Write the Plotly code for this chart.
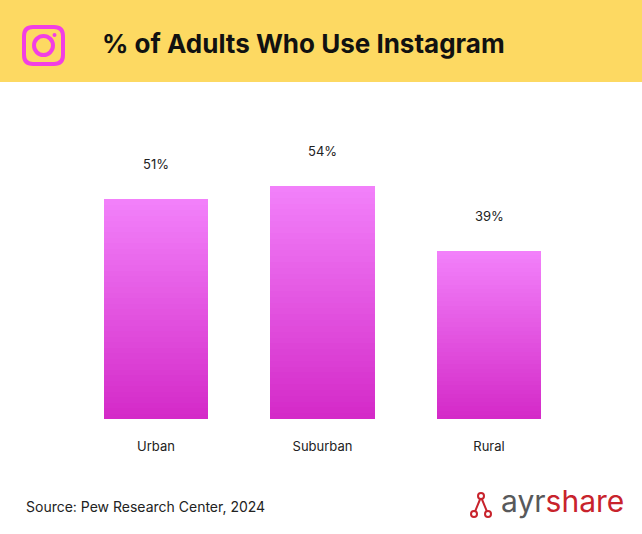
import plotly.graph_objects as go

categories = ["Urban", "Suburban", "Rural"]
values = [51, 54, 39]
labels = ["51%", "54%", "39%"]

W, H = 642, 534
N = 40
top_c = (242, 128, 250)
bot_c = (212, 42, 200)

fig = go.Figure()
for k in range(N):
    t = k / (N - 1)
    c = tuple(round(bot_c[i] + (top_c[i] - bot_c[i]) * t) for i in range(3))
    fig.add_trace(go.Bar(
        x=list(range(len(categories))), y=[v / N for v in values],
        marker=dict(color="rgb(%d,%d,%d)" % c, line=dict(width=0)),
        width=0.625, hoverinfo="skip", showlegend=False))

for i, (v, lab) in enumerate(zip(values, labels)):
    fig.add_annotation(x=i, y=v, text=lab, showarrow=False, yshift=35,
                       font=dict(size=13, color="#222", family="Inter"))

def px(x): return x / W
def py(y): return 1 - y / H

fig.update_layout(
    barmode="stack", width=W, height=H,
    margin=dict(l=0, r=0, t=0, b=0),
    paper_bgcolor="white", plot_bgcolor="white",
    xaxis=dict(range=[-156/166.5, (W-156)/166.5], tickvals=list(range(3)), ticktext=categories,
               showgrid=False, zeroline=False, showline=False, ticks="",
               tickfont=dict(size=13, color="#222", family="Inter"), ticklabelstandoff=18),
    yaxis=dict(range=[0, 74], visible=False, domain=[py(419), py(100)]),
)

fig.add_shape(type="rect", xref="paper", yref="paper", x0=0, x1=1, y0=py(82), y1=1,
              fillcolor="#FDD962", line=dict(width=0), layer="below")

r = 9
x0, x1, y0, y1 = 24, 63, 27, 64
pts = lambda x, y: f"{px(x)},{py(y)}"
path = (f"M {pts(x0+r,y0)} L {pts(x1-r,y0)} Q {pts(x1,y0)} {pts(x1,y0+r)} L {pts(x1,y1-r)} "
        f"Q {pts(x1,y1)} {pts(x1-r,y1)} L {pts(x0+r,y1)} Q {pts(x0,y1)} {pts(x0,y1-r)} "
        f"L {pts(x0,y0+r)} Q {pts(x0,y0)} {pts(x0+r,y0)} Z")
fig.add_shape(type="path", xref="paper", yref="paper", path=path, line=dict(color="#F23FE4", width=4))
fig.add_shape(type="circle", xref="paper", yref="paper", x0=px(34), x1=px(53), y0=py(55), y1=py(36),
              line=dict(color="#F23FE4", width=4))
fig.add_shape(type="circle", xref="paper", yref="paper", x0=px(52.5), x1=px(56.5), y0=py(37), y1=py(33),
              fillcolor="#F23FE4", line=dict(width=0))

fig.add_annotation(xref="paper", yref="paper", x=px(100), y=py(44), xanchor="left", yanchor="middle",
                   text="<b>% of Adults Who Use Instagram</b>", showarrow=False,
                   font=dict(size=26, color="#111", family="Inter"))
fig.add_annotation(xref="paper", yref="paper", x=px(24), y=py(506), xanchor="left", yanchor="middle",
                   text="Source: Pew Research Center, 2024", showarrow=False,
                   font=dict(size=14, color="#222", family="Inter"))
fig.add_annotation(xref="paper", yref="paper", x=px(499), y=py(501), xanchor="left", yanchor="middle",
                   text="<span style='color:#58595B'>ayr</span><span style='color:#C8232C'>share</span>",
                   showarrow=False, font=dict(size=30, family="Inter"))
fig.add_shape(type="path", xref="paper", yref="paper",
              path=f"M {pts(474,514)} L {pts(481,497)} L {pts(488,514)}",
              line=dict(color="#C8232C", width=2))
for cx, cy in [(481, 496), (474, 514), (488, 514)]:
    fig.add_shape(type="circle", xref="paper", yref="paper", x0=px(cx-3), x1=px(cx+3), y0=py(cy+3), y1=py(cy-3),
                  fillcolor="white", line=dict(color="#C8232C", width=2))

fig.write_html("out.html", post_script="document.body.style.margin='0';",
               config={"displayModeBar": False})
